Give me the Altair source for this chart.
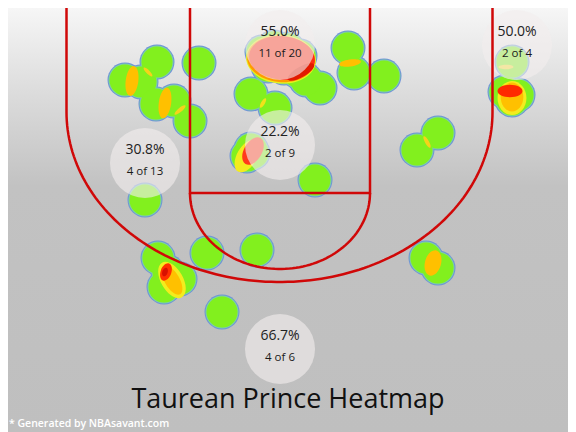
import altair as alt
import numpy as np
import pandas as pd

# ---------------- data (pixel-like court coordinates) -------------
shot_x = [125, 141, 157, 156, 174, 190, 199,
          262, 274, 288, 300, 268, 284, 298, 251, 275, 320, 306, 348, 354, 384,
          247, 251, 253, 315, 145,
          417, 438, 426, 438,
          512, 505, 518, 512,
          158, 168, 164, 180, 207, 257, 222]
shot_y = [80, 82, 62, 104, 101, 121, 63,
          52, 47, 49, 56, 66, 68, 72, 94, 108, 88, 80, 48, 73, 76,
          156, 149, 153, 180, 200,
          150, 133, 258, 268,
          62, 92, 95, 100,
          258, 272, 287, 279, 253, 250, 312]

# hot spots (overlaps) : x, y, length, width ratio, angle, colour
hot_x = [132, 148, 165, 180, 350, 263, 281, 281, 282, 301,
         247, 253, 512, 512, 510, 506, 427, 433, 172, 172, 166, 165]
hot_y = [81, 72, 103, 110, 63, 103, 59, 59, 58, 72,
         156, 151, 98, 97, 91, 67, 142, 263, 280, 280, 272, 272]
hot_len = [30, 12, 31, 14, 22, 11, 70, 68, 66, 30,
           36, 30, 34, 29, 25, 15, 13, 26, 40, 33, 18, 9]
hot_ratio = [0.42, 0.3, 0.4, 0.3, 0.32, 0.35, 0.7, 0.68, 0.66, 0.35,
             0.55, 0.6, 0.85, 0.78, 0.5, 0.3, 0.3, 0.62, 0.55, 0.45, 0.6, 0.6]
hot_angle = [8, 315, 8, 50, 82, 30, 95, 95, 95, 60,
             30, 30, 0, 0, 90, 90, 330, 15, 330, 330, 20, 20]
hot_color = ["#ffc000", "#f7d21a", "#ffc000", "#f7d21a", "#ffc000", "#f2e21a",
             "#e8f020", "#ff9a00", "#ff2e14", "#e21a00",
             "#f3ec1e", "#ff3a1c", "#f3ec1e", "#ffc000", "#ff2a00", "#f5dc30",
             "#f7d21a", "#ffc000", "#f3ec1e", "#ffc000", "#ff3000", "#d81000"]

# zone labels
lab_x = [280, 517, 145, 280, 280]
lab_y = [45, 45, 163, 145, 349]
lab_pct = ["55.0%", "50.0%", "30.8%", "22.2%", "66.7%"]
lab_cnt = ["11 of 20", "2 of 4", "4 of 13", "2 of 9", "4 of 6"]

title_text = "Taurean Prince Heatmap"
footer_text = "* Generated by NBAsavant.com"
text_x = [288, 9]
text_y = [400, 424]

# court geometry (pixels)
lane_left, lane_right, lane_bottom = 190, 370, 193
ft_rx, ft_ry = 90, 76
three_left, three_right, three_cy, three_ry = 66.5, 492.5, 112, 170
court_cx = 279.5

W, H = 560, 424
xs = alt.Scale(domain=[8, 8 + W], range=[0, W], zero=False, nice=False)
ys = alt.Scale(domain=[8, 8 + H], range=[0, H], zero=False, nice=False)

# ---------------- tables ----------------
shots = pd.DataFrame({"x": shot_x, "y": shot_y})


def ellipse_path(r):
    k = 0.5523
    return (f"M0,-1 C{r*k:.3f},-1 {r:.3f},{-k:.3f} {r:.3f},0 "
            f"C{r:.3f},{k:.3f} {r*k:.3f},1 0,1 "
            f"C{-r*k:.3f},1 {-r:.3f},{k:.3f} {-r:.3f},0 "
            f"C{-r:.3f},{-k:.3f} {-r*k:.3f},-1 0,-1 Z")


hot = pd.DataFrame({"x": hot_x, "y": hot_y,
                    "size": [l * l for l in hot_len],
                    "shape": [ellipse_path(r) for r in hot_ratio],
                    "angle": hot_angle, "color": hot_color})

labels = pd.DataFrame({"x": lab_x, "y": lab_y, "pct": lab_pct, "cnt": lab_cnt})

# court lines
rows = []
t = np.linspace(np.pi, 0, 120)
pts3 = [(three_left, 0), (three_left, three_cy)]
pts3 += [(court_cx + (three_right - three_left) / 2 * np.cos(a),
          three_cy + three_ry * np.sin(a)) for a in t]
pts3 += [(three_right, three_cy), (three_right, 0)]
for i, (px, py) in enumerate(pts3):
    rows.append({"seg": "three", "o": i, "x": px, "y": py})
lane = [(lane_left, 1), (lane_left, lane_bottom), (lane_right, lane_bottom),
        (lane_right, 1), (lane_left, 1)]
for i, (px, py) in enumerate(lane):
    rows.append({"seg": "lane", "o": i, "x": px, "y": py})
t2 = np.linspace(np.pi, 0, 80)
for i, a in enumerate(t2):
    rows.append({"seg": "ft", "o": i,
                 "x": (lane_left + lane_right) / 2 + ft_rx * np.cos(a),
                 "y": lane_bottom + ft_ry * np.sin(a)})
court = pd.DataFrame(rows)

texts = pd.DataFrame({"x": text_x, "y": text_y, "t": [title_text, footer_text]})

# ---------------- layers ----------------
bg = alt.Chart(pd.DataFrame({"a": [0]})).mark_rect(
    fill=alt.Gradient(gradient="linear",
                      stops=[alt.GradientStop(color="#f6f6f6", offset=0),
                             alt.GradientStop(color="#dcdcdc", offset=0.2),
                             alt.GradientStop(color="#c2c2c2", offset=0.42),
                             alt.GradientStop(color="#bfbfbf", offset=1)],
                      x1=0, x2=0, y1=0, y2=1)
).encode(x=alt.value(0), x2=alt.value(W), y=alt.value(0), y2=alt.value(H))

enc = dict(x=alt.X("x:Q", scale=xs, axis=None), y=alt.Y("y:Q", scale=ys, axis=None))

blob_blue = alt.Chart(shots).mark_point(shape="circle", filled=True, size=35 * 35,
                                        color="#6f93d8", opacity=1).encode(**enc)
blob_teal = alt.Chart(shots).mark_point(shape="circle", filled=True, size=33 * 33,
                                        color="#7ccfa8", opacity=1).encode(**enc)
blob_green = alt.Chart(shots).mark_point(shape="circle", filled=True, size=31 * 31,
                                         color="#82f01e", opacity=1).encode(**enc)

hot_layer = alt.Chart(hot).mark_point(filled=True, opacity=1).encode(
    **enc,
    shape=alt.Shape("shape:N", scale=None),
    size=alt.Size("size:Q", scale=None),
    angle=alt.Angle("angle:Q", scale=None),
    color=alt.Color("color:N", scale=None),
)

lab_circ = alt.Chart(labels).mark_point(shape="circle", filled=True, size=70 * 70,
                                        color="#f2eded", opacity=0.62).encode(**enc)

court_lines = alt.Chart(court).mark_line(color="#d00808", strokeWidth=2.5, clip=True).encode(
    **enc, detail="seg:N", order="o:Q")

pct_text = alt.Chart(labels).mark_text(font="Open Sans", fontSize=14, color="#222222",
                                       dy=-13).encode(**enc, text="pct:N")
cnt_text = alt.Chart(labels).mark_text(font="Open Sans", fontSize=11.5, color="#1a1a1a",
                                       dy=9).encode(**enc, text="cnt:N")

title_mark = alt.Chart(texts.iloc[[0]]).mark_text(
    font="Open Sans", fontSize=27, color="#111111", align="center", baseline="middle"
).encode(**enc, text="t:N")
footer_mark = alt.Chart(texts.iloc[[1]]).mark_text(
    font="Open Sans", fontSize=10.5, fontWeight=600, color="#ffffff", align="left",
    baseline="middle"
).encode(**enc, text="t:N")

chart = alt.layer(bg, blob_blue, blob_teal, blob_green, hot_layer, lab_circ,
                  court_lines, pct_text, cnt_text, title_mark, footer_mark).properties(
    width=W, height=H, padding=0, autosize=alt.AutoSizeParams(type="none")
).configure_view(stroke=None)

chart.save("out.html", embed_options={"renderer": "svg", "actions": False})
